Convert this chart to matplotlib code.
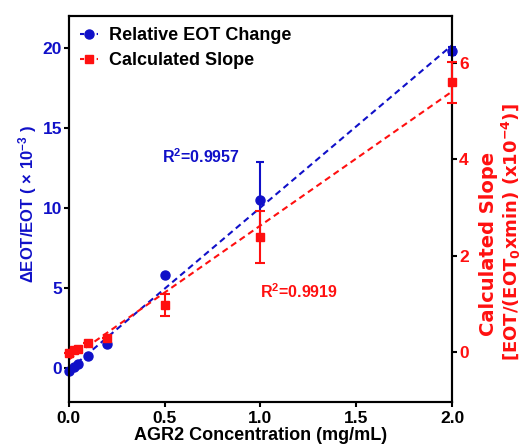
import numpy as np
import matplotlib.pyplot as plt

plt.rcParams['font.family'] = ['Liberation Sans', 'DejaVu Sans']
plt.rcParams['font.weight'] = 'bold'
plt.rcParams['mathtext.default'] = 'regular'

# data
conc = [0.0, 0.025, 0.05, 0.1, 0.2, 0.5, 1.0, 2.0]
eot_change = [-0.15, 0.05, 0.25, 0.75, 1.5, 5.8, 10.5, 19.8]
eot_err = [0, 0, 0, 0, 0, 0, 2.4, 0.25]
slope = [-0.02, 0.04, 0.06, 0.19, 0.29, 0.97, 2.39, 5.6]
slope_err = [0, 0, 0, 0, 0, 0.23, 0.54, 0.42]

blue = '#1010c8'
red = '#ff1010'

fig = plt.figure(figsize=(5.22, 4.47), dpi=100)
ax = fig.add_axes([0.132, 0.101, 0.734, 0.863])
ax2 = ax.twinx()

x = np.array(conc)
xx = np.array([0, 2.0])

# blue series (left axis)
ax.errorbar(conc, eot_change, yerr=eot_err, fmt='o', color=blue, ms=6.5,
            capsize=3, elinewidth=1.5, capthick=1.5, zorder=3, clip_on=False)
p1 = np.polyfit(x, eot_change, 1)
ax.plot(xx, np.polyval(p1, xx), '--', color=blue, lw=1.5, dashes=(3, 2))

# red series (right axis)
ax2.errorbar(conc, slope, yerr=slope_err, fmt='s', color=red, ms=6,
             capsize=3.3, elinewidth=1.5, capthick=1.5, zorder=3, clip_on=False)
p2 = np.polyfit(x, slope, 1)
ax2.plot(xx, np.polyval(p2, xx), '--', color=red, lw=1.5, dashes=(3, 2))

ax.set_xlim(0, 2.0)
ax.set_ylim(-2.1, 22)
ax2.set_ylim(-1.04, 6.98)
ax.set_xticks([0, 0.5, 1.0, 1.5, 2.0])
ax.set_xticklabels(['0.0', '0.5', '1.0', '1.5', '2.0'])
ax.set_yticks([0, 5, 10, 15, 20])
ax2.set_yticks([0, 2, 4, 6])

for a in (ax, ax2):
    for s in a.spines.values():
        s.set_linewidth(1.5)
    a.tick_params(direction='out', width=1.5, length=3.5, labelsize=12.5, pad=1.5)
ax.tick_params(axis='x', pad=3)
ax.tick_params(axis='y', labelcolor=blue)
ax2.tick_params(axis='y', labelcolor=red)

ax.set_xlabel('AGR2 Concentration (mg/mL)', fontsize=13, fontweight='bold', labelpad=1)
fig.text(28 / 522, 1 - 204 / 447, '$\\Delta$EOT/EOT ( $\\times$ 10$^{-3}$ )', color=blue,
         fontsize=12, fontweight='bold', rotation=90, ha='center', va='center')
fig.text(489 / 522, 1 - 244 / 447, 'Calculated Slope', color=red, fontsize=14,
         fontweight='bold', family='DejaVu Sans', rotation=90, ha='center', va='center')
fig.text(511 / 522, 1 - 232 / 447, '[EOT/(EOT$_0$xmin) (x10$^{-4}$)]', color=red,
         fontsize=13, fontweight='bold', family='DejaVu Sans', rotation=90,
         ha='center', va='center')

ax.text(0.485, 13.2, 'R$^2$=0.9957', color=blue, fontsize=11.5, fontweight='bold', va='center')
ax.text(1.0, 4.8, 'R$^2$=0.9919', color=red, fontsize=11.5, fontweight='bold', va='center')

# legend
h1 = ax.plot([], [], '--o', color=blue, ms=6.5, dashes=(2, 2))[0]
h2 = ax.plot([], [], '--s', color=red, ms=6, dashes=(2, 2))[0]
ax.legend([h1, h2], ['Relative EOT Change', 'Calculated Slope'], loc='upper left',
          bbox_to_anchor=(0.0, 1.0), frameon=False, fontsize=13, handlelength=1.0,
          borderaxespad=0.2, handletextpad=0.6, labelspacing=0.45)

fig.savefig('out.png', dpi=100)
